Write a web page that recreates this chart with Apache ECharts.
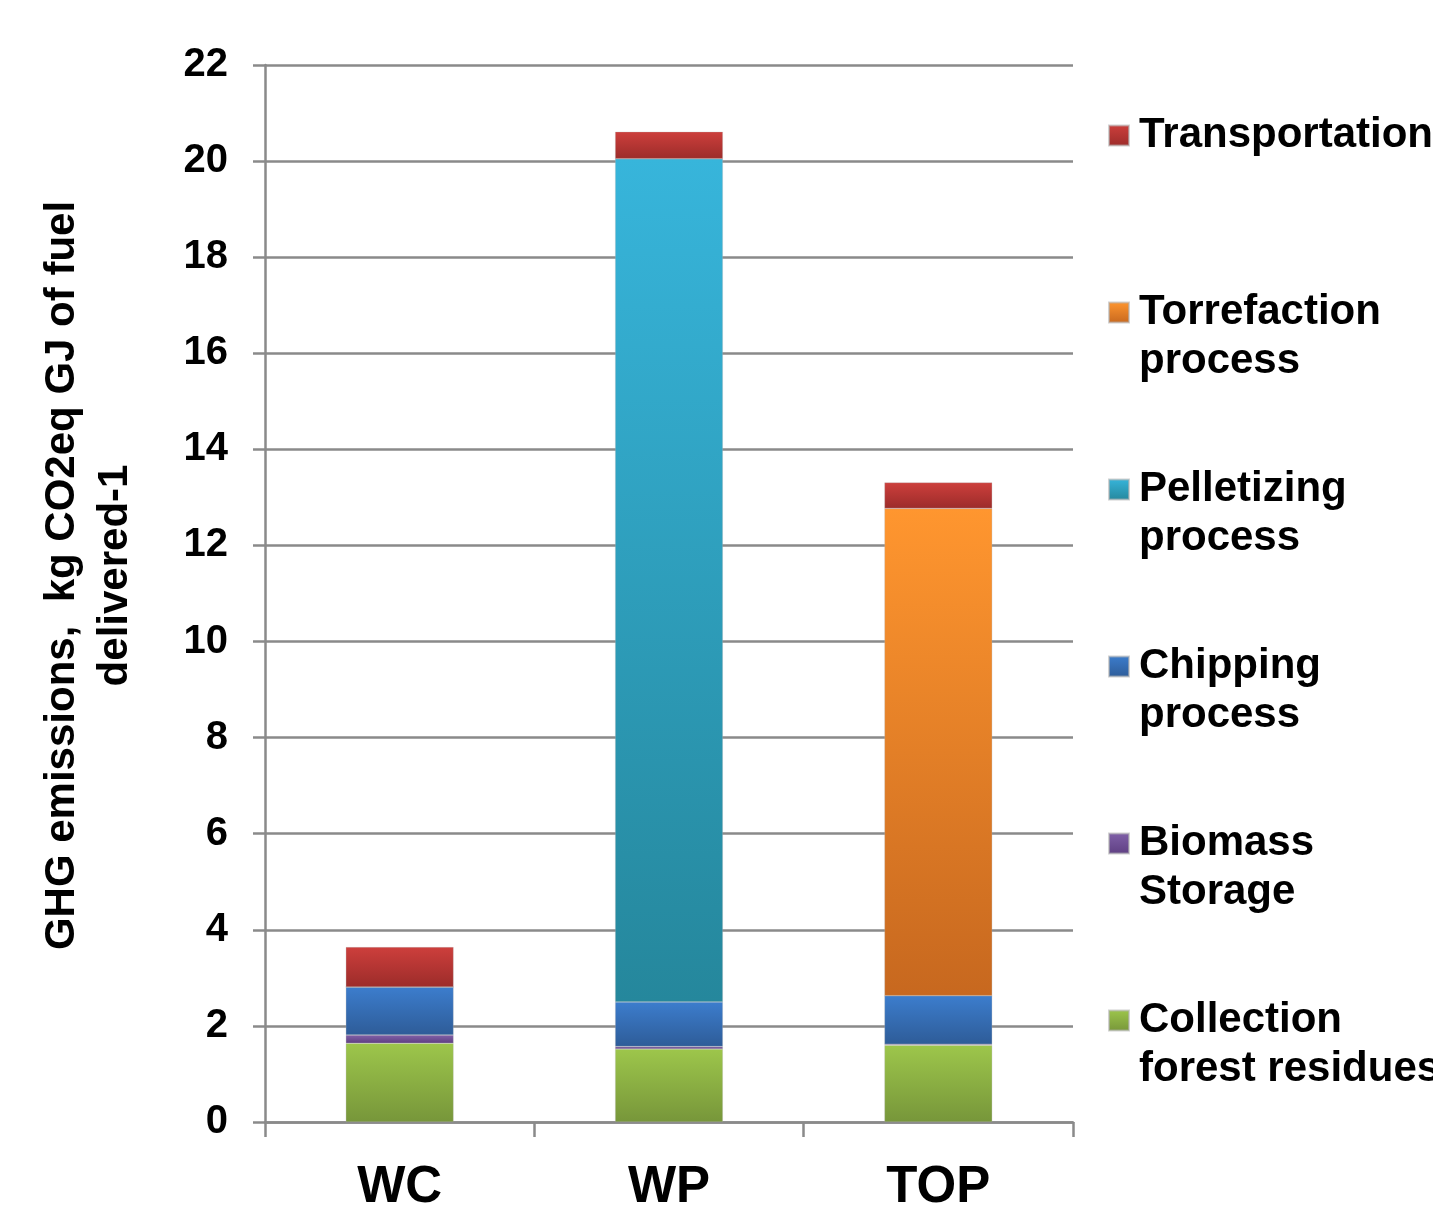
<!DOCTYPE html>
<html>
<head>
<meta charset="utf-8">
<script src="https://cdn.jsdelivr.net/npm/echarts@6/dist/echarts.min.js"></script>
<style>html,body{margin:0;padding:0;background:#fff}#c{width:1433px;height:1213px}</style>
</head>
<body>
<div id="c"></div>
<script>
var categories = ['WC', 'WP', 'TOP'];
var yTicks = [0, 2, 4, 6, 8, 10, 12, 14, 16, 18, 20, 22];
var collection = [1.64, 1.52, 1.60];
var storage = [0.17, 0.05, 0.02];
var chipping = [1.00, 0.93, 1.01];
var pelletizing = [0, 17.55, 0];
var torrefaction = [0, 0, 10.14];
var transport = [0.83, 0.56, 0.54];

var seriesNames = ['Collection forest residues', 'Biomass Storage', 'Chipping process', 'Pelletizing process', 'Torrefaction process', 'Transportation'];
var legendLabels = {
  'Transportation': ' \nTransportation\n ',
  'Torrefaction process': ' \nTorrefaction\nprocess',
  'Pelletizing process': ' \nPelletizing\nprocess',
  'Chipping process': ' \nChipping\nprocess',
  'Biomass Storage': ' \nBiomass\nStorage',
  'Collection forest residues': ' \nCollection\nforest residues'
};
var seriesData = [collection, storage, chipping, pelletizing, torrefaction, transport];
var colorPairs = [
  ['#9DC64B', '#77963A'],
  ['#8060A8', '#5E3F82'],
  ['#3C7DCD', '#2E5C98'],
  ['#37B5DB', '#25879C'],
  ['#FF962F', '#C7681F'],
  ['#CD3F3C', '#9C2C2A']
];

function grad(p) {
  return new echarts.graphic.LinearGradient(0, 0, 0, 1, [
    {offset: 0, color: p[0]}, {offset: 1, color: p[1]}
  ]);
}

var series = seriesNames.map(function (n, i) {
  return {
    name: n,
    type: 'bar',
    stack: 'total',
    barWidth: '40%',
    data: seriesData[i],
    itemStyle: {color: grad(colorPairs[i]), borderColor: 'rgba(180,180,180,0.6)', borderWidth: 0.5},
    emphasis: {disabled: true}
  };
});

var chart = echarts.init(document.getElementById('c'));
chart.setOption({
  animation: false,
  backgroundColor: '#fff',
  grid: {left: 265, right: 360, top: 65, bottom: 90, containLabel: false},
  legend: {
    orient: 'vertical',
    left: 1108,
    top: 62,
    padding: 0,
    icon: 'rect',
    itemWidth: 20,
    itemHeight: 20,
    itemGap: 30,
    selectedMode: false,
    data: seriesNames.slice().reverse(),
    formatter: function (n) { return legendLabels[n]; },
    textStyle: {
      fontFamily: 'Liberation Sans, Arial, sans-serif',
      fontWeight: 'bold',
      fontSize: 42,
      lineHeight: 49,
      color: '#000',
      padding: [0, 0, 0, 5]
    }
  },
  xAxis: {
    type: 'category',
    data: categories,
    axisLine: {lineStyle: {color: '#8a8a8a', width: 2.5}},
    axisTick: {show: true, length: 15, lineStyle: {color: '#8a8a8a', width: 2.5}},
    axisLabel: {
      margin: 40,
      fontFamily: 'Liberation Sans, Arial, sans-serif',
      fontWeight: 'bold',
      fontSize: 51,
      color: '#000'
    }
  },
  yAxis: {
    type: 'value',
    min: 0,
    max: 22,
    interval: 2,
    name: 'GHG emissions,  kg CO2eq GJ of fuel\ndelivered-1',
    nameLocation: 'middle',
    nameGap: 123,
    nameRotate: 90,
    nameTextStyle: {
      fontFamily: 'Liberation Sans, Arial, sans-serif',
      fontWeight: 'bold',
      fontSize: 42,
      lineHeight: 53,
      color: '#000',
      align: 'center',
      padding: [0, 0, 0, 36]
    },
    axisLine: {show: true, lineStyle: {color: '#8a8a8a', width: 2.5}},
    axisTick: {show: true, length: 12, lineStyle: {color: '#8a8a8a', width: 2.5}},
    splitLine: {show: true, lineStyle: {color: '#8a8a8a', width: 2.5}},
    axisLabel: {
      margin: 37,
      fontFamily: 'Liberation Sans, Arial, sans-serif',
      fontWeight: 'bold',
      fontSize: 40,
      color: '#000',
      formatter: function (v) { return yTicks.indexOf(v) >= 0 ? String(v) : ''; }
    }
  },
  series: series
});
</script>
</body>
</html>
